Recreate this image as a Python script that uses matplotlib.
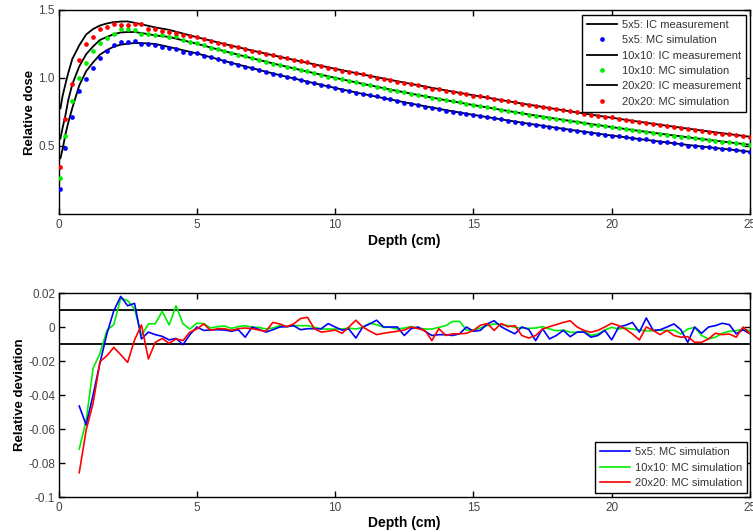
import numpy as np
import matplotlib
matplotlib.use("Agg")
import matplotlib.pyplot as plt

plt.rcParams['font.family'] = ['Liberation Sans', 'DejaVu Sans']

# ---------------- data ----------------
# Monte Carlo depth grid (cm)
mc_depth = [0.05] + [round(0.25 * i, 2) for i in range(1, 101)]

mc_5x5 = [0.186, 0.483, 0.716, 0.904, 0.990, 1.076, 1.149, 1.201, 1.243, 1.267,
          1.267, 1.274, 1.248, 1.248, 1.243, 1.230, 1.218, 1.211, 1.194, 1.187,
          1.181, 1.165, 1.151, 1.137, 1.123, 1.109, 1.096, 1.078, 1.072, 1.058,
          1.043, 1.031, 1.021, 1.009, 0.998, 0.983, 0.972, 0.960, 0.949, 0.940,
          0.927, 0.914, 0.904, 0.888, 0.883, 0.875, 0.865, 0.852, 0.842, 0.832,
          0.818, 0.811, 0.802, 0.790, 0.779, 0.770, 0.761, 0.751, 0.743, 0.737,
          0.727, 0.719, 0.713, 0.707, 0.696, 0.687, 0.677, 0.672, 0.663, 0.651,
          0.648, 0.637, 0.631, 0.626, 0.615, 0.610, 0.603, 0.594, 0.588, 0.583,
          0.573, 0.570, 0.565, 0.559, 0.549, 0.548, 0.537, 0.531, 0.526, 0.521,
          0.513, 0.503, 0.502, 0.494, 0.491, 0.485, 0.481, 0.475, 0.467, 0.462,
          0.456]

mc_10x10 = [0.267, 0.574, 0.831, 0.998, 1.113, 1.201, 1.260, 1.297, 1.324, 1.358,
            1.358, 1.353, 1.324, 1.324, 1.316, 1.318, 1.304, 1.306, 1.280, 1.263,
            1.255, 1.240, 1.223, 1.211, 1.198, 1.183, 1.171, 1.159, 1.145, 1.132,
            1.119, 1.106, 1.096, 1.083, 1.072, 1.060, 1.048, 1.035, 1.023, 1.011,
            1.000, 0.989, 0.978, 0.967, 0.957, 0.948, 0.937, 0.925, 0.915, 0.904,
            0.894, 0.885, 0.874, 0.864, 0.855, 0.846, 0.838, 0.831, 0.822, 0.809,
            0.800, 0.792, 0.784, 0.776, 0.767, 0.758, 0.749, 0.740, 0.731, 0.724,
            0.716, 0.707, 0.698, 0.691, 0.682, 0.675, 0.668, 0.658, 0.651, 0.646,
            0.639, 0.631, 0.625, 0.617, 0.610, 0.603, 0.596, 0.590, 0.583, 0.576,
            0.569, 0.563, 0.558, 0.549, 0.541, 0.536, 0.531, 0.526, 0.520, 0.514,
            0.508]

mc_20x20 = [0.348, 0.699, 0.956, 1.130, 1.248, 1.301, 1.358, 1.377, 1.394, 1.389,
            1.387, 1.394, 1.397, 1.360, 1.360, 1.348, 1.341, 1.328, 1.316, 1.306,
            1.299, 1.289, 1.272, 1.261, 1.249, 1.236, 1.225, 1.213, 1.201, 1.188,
            1.176, 1.170, 1.158, 1.145, 1.135, 1.128, 1.117, 1.099, 1.086, 1.076,
            1.066, 1.053, 1.047, 1.040, 1.026, 1.014, 1.001, 0.992, 0.983, 0.974,
            0.964, 0.957, 0.946, 0.935, 0.921, 0.917, 0.904, 0.896, 0.887, 0.879,
            0.871, 0.865, 0.857, 0.845, 0.840, 0.829, 0.822, 0.808, 0.799, 0.792,
            0.786, 0.779, 0.772, 0.765, 0.758, 0.747, 0.738, 0.729, 0.722, 0.716,
            0.710, 0.701, 0.692, 0.682, 0.673, 0.671, 0.662, 0.653, 0.648, 0.639,
            0.631, 0.624, 0.615, 0.608, 0.603, 0.599, 0.591, 0.585, 0.578, 0.574,
            0.566]

# Ion chamber measurement depth grid (cm)
ic_depth = [0.07, 0.15, 0.25, 0.35, 0.5, 0.75, 1.0, 1.25, 1.5, 1.75, 2.0, 2.25,
            2.5, 2.75, 3.0, 3.5, 4.0, 5, 6, 7, 8, 9, 10, 11, 12, 13, 14, 15, 16,
            17, 18, 19, 20, 21, 22, 23, 24, 25]

ic_5x5 = [0.410, 0.480, 0.585, 0.670, 0.780, 0.945, 1.050, 1.115, 1.172, 1.205,
          1.231, 1.245, 1.252, 1.257, 1.257, 1.250, 1.228, 1.181, 1.125, 1.072,
          1.021, 0.973, 0.927, 0.883, 0.842, 0.802, 0.764, 0.729, 0.696, 0.664,
          0.634, 0.605, 0.577, 0.551, 0.526, 0.502, 0.480, 0.458]

ic_10x10 = [0.555, 0.635, 0.725, 0.835, 0.955, 1.085, 1.175, 1.232, 1.280, 1.302,
            1.322, 1.335, 1.338, 1.338, 1.331, 1.313, 1.302, 1.252, 1.197, 1.145,
            1.095, 1.047, 1.001, 0.957, 0.915, 0.875, 0.837, 0.801, 0.766, 0.732,
            0.700, 0.669, 0.639, 0.611, 0.584, 0.558, 0.533, 0.509]

ic_20x20 = [0.777, 0.870, 0.955, 1.035, 1.140, 1.240, 1.320, 1.360, 1.386, 1.401,
            1.411, 1.415, 1.416, 1.406, 1.395, 1.372, 1.354, 1.300, 1.250, 1.202,
            1.156, 1.111, 1.068, 1.026, 0.986, 0.947, 0.909, 0.873, 0.838, 0.804,
            0.771, 0.739, 0.708, 0.678, 0.649, 0.621, 0.594, 0.568]

# Relative deviation (MC vs IC), depth grid from 0.75 cm
dev_depth = [round(0.75 + 0.25 * i, 2) for i in range(98)]

dev_5x5 = [-0.0465, -0.0576, -0.0400, -0.0210, -0.0040, 0.0096, 0.0180, 0.0125,
           0.0139, -0.0070, -0.0030, -0.0045, -0.0055, -0.0076, -0.0067, -0.0104,
           -0.0045, 0.0000, -0.0020, -0.0018, -0.0016, -0.0018, -0.0025, -0.0016,
           -0.0060, 0.0000, -0.0014, -0.0030, -0.0016, 0.0000, 0.0002, 0.0008,
           -0.0016, -0.0010, -0.0010, -0.0010, 0.0020, 0.0000, -0.0018, -0.0012,
           -0.0065, 0.0000, 0.0018, 0.0040, 0.0000, 0.0000, 0.0000, -0.0050,
           -0.0010, 0.0000, -0.0025, -0.0050, -0.0045, -0.0045, -0.0050, -0.0040,
           0.0000, -0.0025, -0.0020, 0.0018, 0.0037, 0.0002, -0.0020, -0.0040,
           0.0000, -0.0014, -0.0080, -0.0010, -0.0070, -0.0050, -0.0020, -0.0057,
           -0.0030, -0.0030, -0.0060, -0.0050, -0.0020, -0.0076, 0.0000, 0.0010,
           0.0027, -0.0030, 0.0053, -0.0020, -0.0016, 0.0000, 0.0018, -0.0016,
           -0.0090, 0.0000, -0.0037, 0.0000, 0.0008, 0.0022, 0.0014, -0.0040,
           -0.0016, -0.0040]

dev_10x10 = [-0.0718, -0.0550, -0.0243, -0.0155, -0.0020, 0.0014, 0.0170, 0.0155,
             0.0106, -0.0050, 0.0018, 0.0020, 0.0092, 0.0012, 0.0125, 0.0018,
             -0.0012, 0.0022, 0.0020, -0.0006, 0.0002, 0.0006, -0.0008, 0.0002,
             0.0008, -0.0002, -0.0002, -0.0012, -0.0006, 0.0008, 0.0002, 0.0008,
             0.0008, 0.0008, -0.0002, -0.0012, -0.0012, -0.0012, -0.0012, -0.0006,
             -0.0012, -0.0002, 0.0022, 0.0014, -0.0002, -0.0002, -0.0012, -0.0006,
             0.0002, -0.0006, -0.0012, -0.0012, -0.0002, 0.0008, 0.0033, 0.0033,
             -0.0018, -0.0018, -0.0006, 0.0008, 0.0018, 0.0014, 0.0008, -0.0002,
             -0.0006, -0.0008, -0.0006, 0.0002, -0.0012, -0.0022, -0.0018, -0.0031,
             -0.0031, -0.0022, -0.0050, -0.0041, -0.0018, -0.0002, -0.0012, -0.0006,
             -0.0012, -0.0018, -0.0022, -0.0022, -0.0018, -0.0022, -0.0018, -0.0041,
             -0.0012, -0.0002, -0.0050, -0.0070, -0.0060, -0.0037, -0.0025, -0.0022,
             -0.0012, -0.0022]

dev_20x20 = [-0.0857, -0.0606, -0.0449, -0.0204, -0.0169, -0.0120, -0.0163, -0.0208,
             -0.0076, 0.0012, -0.0188, -0.0090, -0.0067, -0.0096, -0.0070, -0.0080,
             -0.0030, -0.0012, 0.0018, -0.0020, -0.0010, -0.0010, -0.0020, -0.0010,
             -0.0006, -0.0010, -0.0018, -0.0025, 0.0027, 0.0018, 0.0002, 0.0018,
             0.0050, 0.0057, -0.0010, -0.0030, -0.0025, -0.0018, -0.0037, 0.0000,
             0.0040, 0.0000, -0.0024, -0.0045, -0.0037, -0.0031, -0.0025, -0.0018,
             0.0000, -0.0010, -0.0020, -0.0080, -0.0010, -0.0050, -0.0040, -0.0040,
             -0.0037, -0.0020, 0.0010, 0.0020, -0.0020, 0.0020, 0.0002, 0.0008,
             -0.0050, -0.0065, -0.0050, -0.0012, 0.0002, 0.0014, 0.0027, 0.0037,
             0.0000, -0.0020, -0.0031, -0.0020, 0.0000, 0.0022, 0.0008, -0.0012,
             -0.0041, -0.0076, 0.0000, -0.0020, -0.0045, -0.0020, -0.0050, -0.0060,
             -0.0057, -0.0090, -0.0090, -0.0070, -0.0037, -0.0045, -0.0041, -0.0060,
             0.0000, -0.0040]

tolerance = [0.01, -0.01]
x_ticks = [0, 5, 10, 15, 20, 25]
top_yticks = [0.5, 1.0, 1.5]
top_yticklabels = ['0.5', '1.0', '1.5']
bot_yticks = [-0.1, -0.08, -0.06, -0.04, -0.02, 0, 0.02]
bot_yticklabels = ['-0.1', '-0.08', '-0.06', '-0.04', '-0.02', '0', '0.02']

# ---------------- figure ----------------
W, H = 753, 532
fig = plt.figure(figsize=(W / 100, H / 100), dpi=100)

def ax_rect(x0, y0, x1, y1):
    return [x0 / W, 1 - y1 / H, (x1 - x0) / W, (y1 - y0) / H]

ax1 = fig.add_axes(ax_rect(58.5, 10, 750, 214))
ax2 = fig.add_axes(ax_rect(58.5, 293, 750, 497))

BLUE, GREEN, RED = '#0000ff', '#00ee00', '#ff0000'
ms = 3.4

ax1.plot(ic_depth, ic_5x5, color='black', lw=1.3, label='5x5: IC measurement', zorder=2)
ax1.plot(mc_depth, mc_5x5, ls='none', marker='o', ms=ms, mew=0, color=BLUE,
         label='5x5: MC simulation', zorder=3)
ax1.plot(ic_depth, ic_10x10, color='black', lw=1.3, label='10x10: IC measurement', zorder=2)
ax1.plot(mc_depth, mc_10x10, ls='none', marker='o', ms=ms, mew=0, color=GREEN,
         label='10x10: MC simulation', zorder=3)
ax1.plot(ic_depth, ic_20x20, color='black', lw=1.3, label='20x20: IC measurement', zorder=2)
ax1.plot(mc_depth, mc_20x20, ls='none', marker='o', ms=ms, mew=0, color=RED,
         label='20x20: MC simulation', zorder=3)

ax1.set_xlim(0, 25)
ax1.set_ylim(0, 1.5)
ax1.set_xticks(x_ticks)
ax1.set_yticks(top_yticks)
ax1.set_yticklabels(top_yticklabels)
ax1.set_xlabel('Depth (cm)', fontsize=10, fontweight='bold')
ax1.set_ylabel('Relative dose', fontsize=9.5, fontweight='bold')
ax1.xaxis.set_label_coords(0.5, (214 - 234) / 204)
ax1.yaxis.set_label_coords((36 - 58.5) / 691.5, 0.5)

for yv in tolerance:
    ax2.axhline(yv, color='black', lw=1.3, zorder=1)
ax2.plot(dev_depth, dev_5x5, color=BLUE, lw=1.2, label='5x5: MC simulation', zorder=3)
ax2.plot(dev_depth, dev_10x10, color=GREEN, lw=1.2, label='10x10: MC simulation', zorder=2)
ax2.plot(dev_depth, dev_20x20, color=RED, lw=1.2, label='20x20: MC simulation', zorder=4)
ax2.set_xlim(0, 25)
ax2.set_ylim(-0.1, 0.02)
ax2.set_xticks(x_ticks)
ax2.set_yticks(bot_yticks)
ax2.set_yticklabels(bot_yticklabels)
ax2.set_xlabel('Depth (cm)', fontsize=10, fontweight='bold')
ax2.set_ylabel('Relative deviation', fontsize=9.5, fontweight='bold')
ax2.xaxis.set_label_coords(0.5, (497 - 516) / 204)
ax2.yaxis.set_label_coords((26 - 58.5) / 691.5, 0.5)

for ax in (ax1, ax2):
    ax.tick_params(direction='in', top=True, right=True, length=4.5, width=1,
                   labelsize=8.5, labelcolor='#444444', pad=3.5)
    ax.tick_params(axis='y', pad=2.5)
    for s in ax.spines.values():
        s.set_linewidth(1.0)
        s.set_color('black')

leg_kw = dict(fontsize=8, frameon=True, fancybox=False, framealpha=1,
              edgecolor='black', borderaxespad=0, handletextpad=0.4,
              borderpad=0.45, labelspacing=0.48, handlelength=2.7,
              bbox_transform=fig.transFigure, labelcolor='#333333')
l1 = ax1.legend(loc='upper right', bbox_to_anchor=(746 / W, 1 - 15 / H), **leg_kw)
l2 = ax2.legend(loc='lower right', bbox_to_anchor=(747 / W, 1 - 493 / H), **leg_kw)
for lg in (l1, l2):
    lg.get_frame().set_linewidth(1.0)

fig.savefig('out.png', dpi=100)
